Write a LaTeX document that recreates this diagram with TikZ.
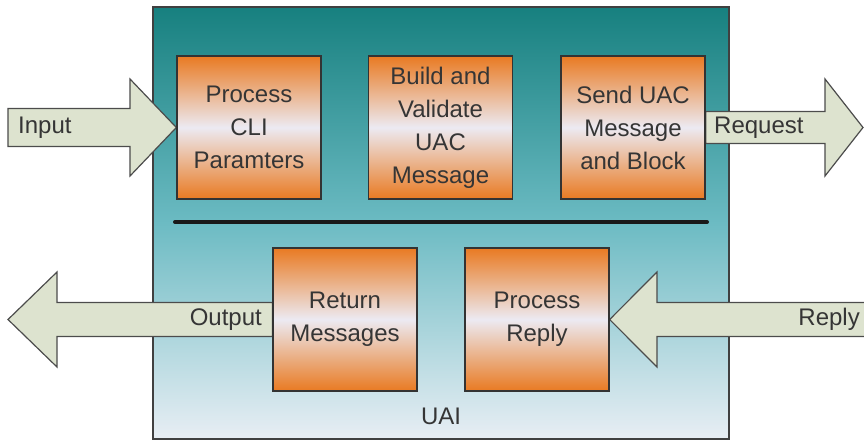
\documentclass[tikz,border=0pt]{standalone}
\usepackage{fontspec}
\setmainfont{Liberation Sans}
\usepackage{xcolor}
\usetikzlibrary{positioning,backgrounds}
\definecolor{tealtopo}{HTML}{17807F}
\definecolor{tealmeio}{HTML}{6CBBC3}
\definecolor{tealbase}{HTML}{E8EEF4}
\definecolor{laranja}{HTML}{E97A22}
\definecolor{claro}{HTML}{ECEAF2}
\definecolor{setacor}{HTML}{DDE3CF}
\definecolor{texto}{HTML}{353535}

\begin{document}
\begin{tikzpicture}[x=1pt,y=-1pt,
    font=\fontsize{24}{33}\selectfont,
    bloco/.style={draw=black!80, line width=1.3pt, top color=laranja,
        bottom color=laranja, middle color=claro, minimum width=144pt,
        minimum height=143pt, align=center, text=texto, inner sep=0pt},
    moldura/.style={draw=black!75, line width=1.3pt, top color=tealtopo,
        bottom color=tealbase, middle color=tealmeio, minimum width=576pt,
        minimum height=432pt},
    seta/.style={draw=black!70, line width=1.2pt, fill=setacor, line join=miter},
    rotulo/.style={text=texto, inner sep=0pt}]
            % Area da figura
            \useasboundingbox (0,0) rectangle (864,442);
            \clip (0,0) rectangle (864,442);

            % Blocos de cima
            \node[bloco] (cli) at (249,127.5) {Process\\CLI\\Paramters};
            \node[bloco] (build) at (440.5,127.5) {Build and\\Validate\\UAC\\Message};
            \node[bloco] (send) at (633,127.5) {Send UAC\\Message\\and Block};

            % Blocos de baixo
            \node[bloco] (ret) at (345,319.5) {Return\\Messages};
            \node[bloco] (proc) at (537,319.5) {Process\\Reply};

            % Linha divisoria
            \draw[line width=4pt, color=black!90, line cap=round] (175,222) -- (707,222);

            % Nome do modulo
            \node[rotulo] (uailbl) at (441,416) {UAI};

            \begin{scope}[on background layer]
                % Caixa externa
                \node[moldura] (uai) at (441,223) {};

                % Setas de entrada e saida
                \draw[seta] (8,108.5) -- (130,108.5) -- (130,79) -- (cli.west)
                    -- (130,176) -- (130,146.5) -- (8,146.5) -- cycle;
                \draw[seta] ([yshift=16pt]send.east) -- (825,111.5) -- (825,79) -- (863,127.5)
                    -- (825,176) -- (825,143.5) -- ([yshift=-16pt]send.east) -- cycle;
                \draw[seta] ([yshift=17pt]ret.west) -- (57,302.5) -- (57,272) -- (8,319.5)
                    -- (57,367) -- (57,336.5) -- ([yshift=-17pt]ret.west) -- cycle;
                \draw[seta] (proc.east) -- (657,272) -- (657,302.5) -- (870,302.5)
                    -- (870,336.5) -- (657,336.5) -- (657,367) -- cycle;
            \end{scope}

            % Textos das setas
            \node[rotulo, anchor=west] (inlbl) at (18,127.5) {Input};
            \node[rotulo, anchor=west] (reqlbl) at (714,127.5) {Request};
            \node[rotulo, anchor=east] (outlbl) at (262,319.5) {Output};
            \node[rotulo, anchor=east] (replbl) at (860,319.5) {Reply};
        \end{tikzpicture}
\end{document}
